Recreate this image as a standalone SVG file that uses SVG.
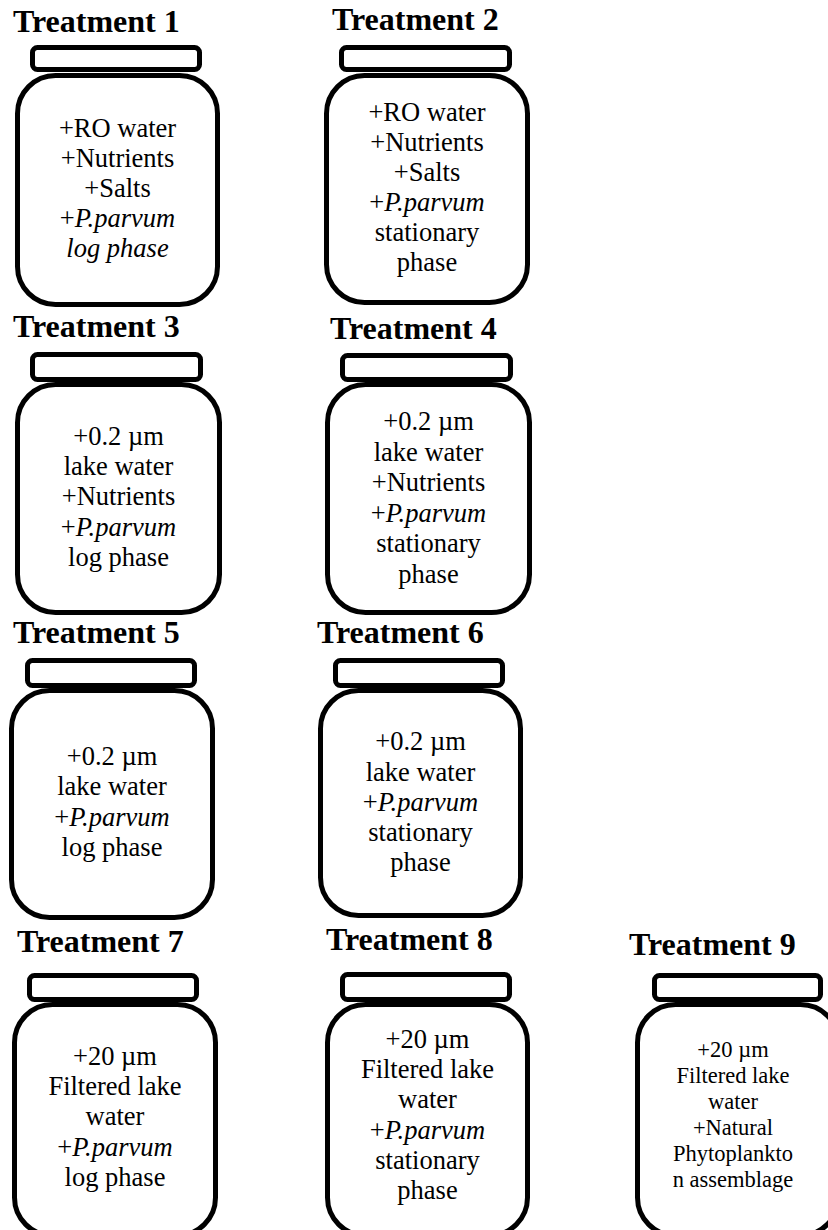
<svg xmlns="http://www.w3.org/2000/svg" width="828" height="1230" viewBox="0 0 828 1230">
<style>
.lid,.jar{fill:#fff;stroke:#000;stroke-width:5}
.ttl{font-family:"Liberation Serif","Times New Roman",serif;font-weight:bold;font-size:32px;fill:#000}
.txt{font-family:"Liberation Serif","Times New Roman",serif;font-weight:normal;font-size:26.5px;fill:#000;text-anchor:middle}
.sm{font-size:22.5px}
.i{font-style:italic}
</style>
<rect width="828" height="1230" fill="#fff"/>
<g id="connectors"/>

<g id="t1">
<text class="ttl" x="13" y="32">Treatment 1</text>
<rect class="lid" x="32.5" y="47.5" width="167" height="22" rx="5"/>
<rect class="jar" x="17.5" y="75.5" width="200" height="229" rx="38"/>
<text class="txt" x="117.5" y="137">+RO water</text>
<text class="txt" x="117.5" y="167">+Nutrients</text>
<text class="txt" x="117.5" y="197">+Salts</text>
<text class="txt" x="117.5" y="227">+<tspan class="i">P.parvum</tspan></text>
<text class="txt i" x="117.5" y="257">log phase</text>
</g>

<g id="t2">
<text class="ttl" x="332" y="30">Treatment 2</text>
<rect class="lid" x="341.5" y="47.5" width="168" height="22" rx="5"/>
<rect class="jar" x="326.5" y="75.5" width="201" height="227" rx="38"/>
<text class="txt" x="427" y="121">+RO water</text>
<text class="txt" x="427" y="151">+Nutrients</text>
<text class="txt" x="427" y="181">+Salts</text>
<text class="txt" x="427" y="211">+<tspan class="i">P.parvum</tspan></text>
<text class="txt" x="427" y="241">stationary</text>
<text class="txt" x="427" y="271">phase</text>
</g>

<g id="t3">
<text class="ttl" x="13" y="337">Treatment 3</text>
<rect class="lid" x="32.5" y="354.5" width="168" height="25" rx="5"/>
<rect class="jar" x="17.5" y="384.5" width="202" height="228" rx="38"/>
<text class="txt" x="118.5" y="445">+0.2 µm</text>
<text class="txt" x="118.5" y="475">lake water</text>
<text class="txt" x="118.5" y="505">+Nutrients</text>
<text class="txt" x="118.5" y="536">+<tspan class="i">P.parvum</tspan></text>
<text class="txt" x="118.5" y="566">log phase</text>
</g>

<g id="t4">
<text class="ttl" x="330" y="339">Treatment 4</text>
<rect class="lid" x="342.5" y="355.5" width="168" height="24" rx="5"/>
<rect class="jar" x="327.5" y="384.5" width="202" height="228" rx="38"/>
<text class="txt" x="428.5" y="430">+0.2 µm</text>
<text class="txt" x="428.5" y="460.5">lake water</text>
<text class="txt" x="428.5" y="491">+Nutrients</text>
<text class="txt" x="428.5" y="521.5">+<tspan class="i">P.parvum</tspan></text>
<text class="txt" x="428.5" y="552">stationary</text>
<text class="txt" x="428.5" y="582.5">phase</text>
</g>

<g id="t5">
<text class="ttl" x="13" y="643">Treatment 5</text>
<rect class="lid" x="27.5" y="660.5" width="167" height="25" rx="5"/>
<rect class="jar" x="11.5" y="690.5" width="201" height="227" rx="38"/>
<text class="txt" x="112" y="765">+0.2 µm</text>
<text class="txt" x="112" y="795">lake water</text>
<text class="txt" x="112" y="826">+<tspan class="i">P.parvum</tspan></text>
<text class="txt" x="112" y="856">log phase</text>
</g>

<g id="t6">
<text class="ttl" x="317" y="643">Treatment 6</text>
<rect class="lid" x="335.5" y="660.5" width="167" height="25" rx="5"/>
<rect class="jar" x="320.5" y="690.5" width="200" height="225" rx="38"/>
<text class="txt" x="420.5" y="750">+0.2 µm</text>
<text class="txt" x="420.5" y="781">lake water</text>
<text class="txt" x="420.5" y="811">+<tspan class="i">P.parvum</tspan></text>
<text class="txt" x="420.5" y="841">stationary</text>
<text class="txt" x="420.5" y="871">phase</text>
</g>

<g id="t7">
<text class="ttl" x="17" y="952">Treatment 7</text>
<rect class="lid" x="29.5" y="975.5" width="167" height="24" rx="5"/>
<rect class="jar" x="14.5" y="1004.5" width="201" height="231" rx="38"/>
<text class="txt" x="115" y="1065">+20 µm</text>
<text class="txt" x="115" y="1095">Filtered lake</text>
<text class="txt" x="115" y="1125">water</text>
<text class="txt" x="115" y="1156">+<tspan class="i">P.parvum</tspan></text>
<text class="txt" x="115" y="1186">log phase</text>
</g>

<g id="t8">
<text class="ttl" x="326" y="950">Treatment 8</text>
<rect class="lid" x="342.5" y="974.5" width="167" height="25" rx="5"/>
<rect class="jar" x="327.5" y="1004.5" width="200" height="231" rx="38"/>
<text class="txt" x="427.5" y="1048">+20 µm</text>
<text class="txt" x="427.5" y="1078">Filtered lake</text>
<text class="txt" x="427.5" y="1108">water</text>
<text class="txt" x="427.5" y="1139">+<tspan class="i">P.parvum</tspan></text>
<text class="txt" x="427.5" y="1169">stationary</text>
<text class="txt" x="427.5" y="1199">phase</text>
</g>

<g id="t9">
<text class="ttl" x="629" y="955">Treatment 9</text>
<rect class="lid" x="654.5" y="975.5" width="166" height="24" rx="5"/>
<rect class="jar" x="637.5" y="1004.5" width="201" height="231" rx="38"/>
<text class="txt sm" x="733" y="1057">+20 µm</text>
<text class="txt sm" x="733" y="1083">Filtered lake</text>
<text class="txt sm" x="733" y="1109">water</text>
<text class="txt sm" x="733" y="1135">+Natural</text>
<text class="txt sm" x="733" y="1161">Phytoplankto</text>
<text class="txt sm" x="733" y="1187">n assemblage</text>
</g>
</svg>
